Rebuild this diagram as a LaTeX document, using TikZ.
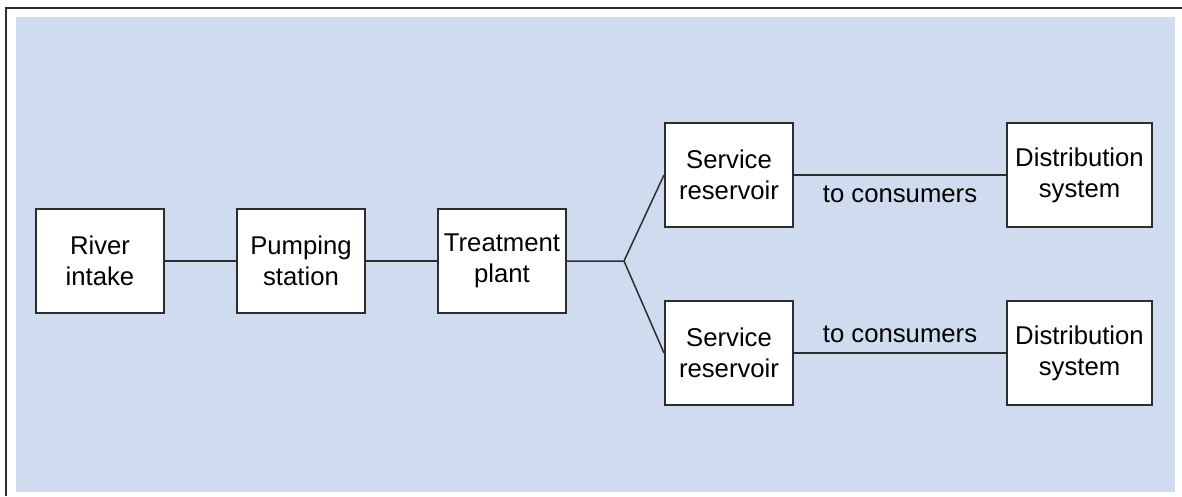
\documentclass[tikz,border=0pt]{standalone}
\usepackage{fontspec}
\setmainfont{Liberation Sans}
\usetikzlibrary{positioning}
\definecolor{panel}{RGB}{207,219,238}
\definecolor{edge}{RGB}{45,45,45}
\tikzstyle{box} = [rectangle, minimum width=128pt, minimum height=104pt, align=center, text centered, draw=edge, line width=2pt, fill=white, inner sep=2pt]
\tikzstyle{wide} = [box, minimum width=145pt]
\tikzstyle{pipe} = [draw=edge, line width=1.5pt]

\begin{document}
\begin{tikzpicture}[x=1pt,y=-1pt,font=\fontsize{25.7}{31}\selectfont]
    \useasboundingbox (0,0) rectangle (1182,496);
    \draw[line width=1.5pt, draw=edge] (1182,8) -- (6,8) -- (6,496);
    \fill[panel] (16,17) rectangle (1175,492);
    \node[box] (river) at (100,261) {River\\intake};
    \node[box] (pump) [right=71pt of river] {Pumping\\station};
    \node[box] (treat) [right=71pt of pump] {Treatment\\plant};
    \node[box] (servA) at (729,175) {Service\\reservoir};
    \node[box] (servB) at (729,353) {Service\\reservoir};
    \node[wide] (distA) at (1079.5,175) {Distribution\\system};
    \node[wide] (distB) at (1079.5,353) {Distribution\\system};
    \coordinate (fork) at (624,261);
    \draw [pipe] (river) -- (pump);
    \draw [pipe] (pump) -- (treat);
    \draw [pipe] (treat) -- (fork) -- (servA.west);
    \draw [pipe] (fork) -- (servB.west);
    \draw [pipe] (servA) -- node[below=7pt] {to consumers} (distA);
    \draw [pipe] (servB) -- node[above=6pt] {to consumers} (distB);
\end{tikzpicture}
\end{document}
